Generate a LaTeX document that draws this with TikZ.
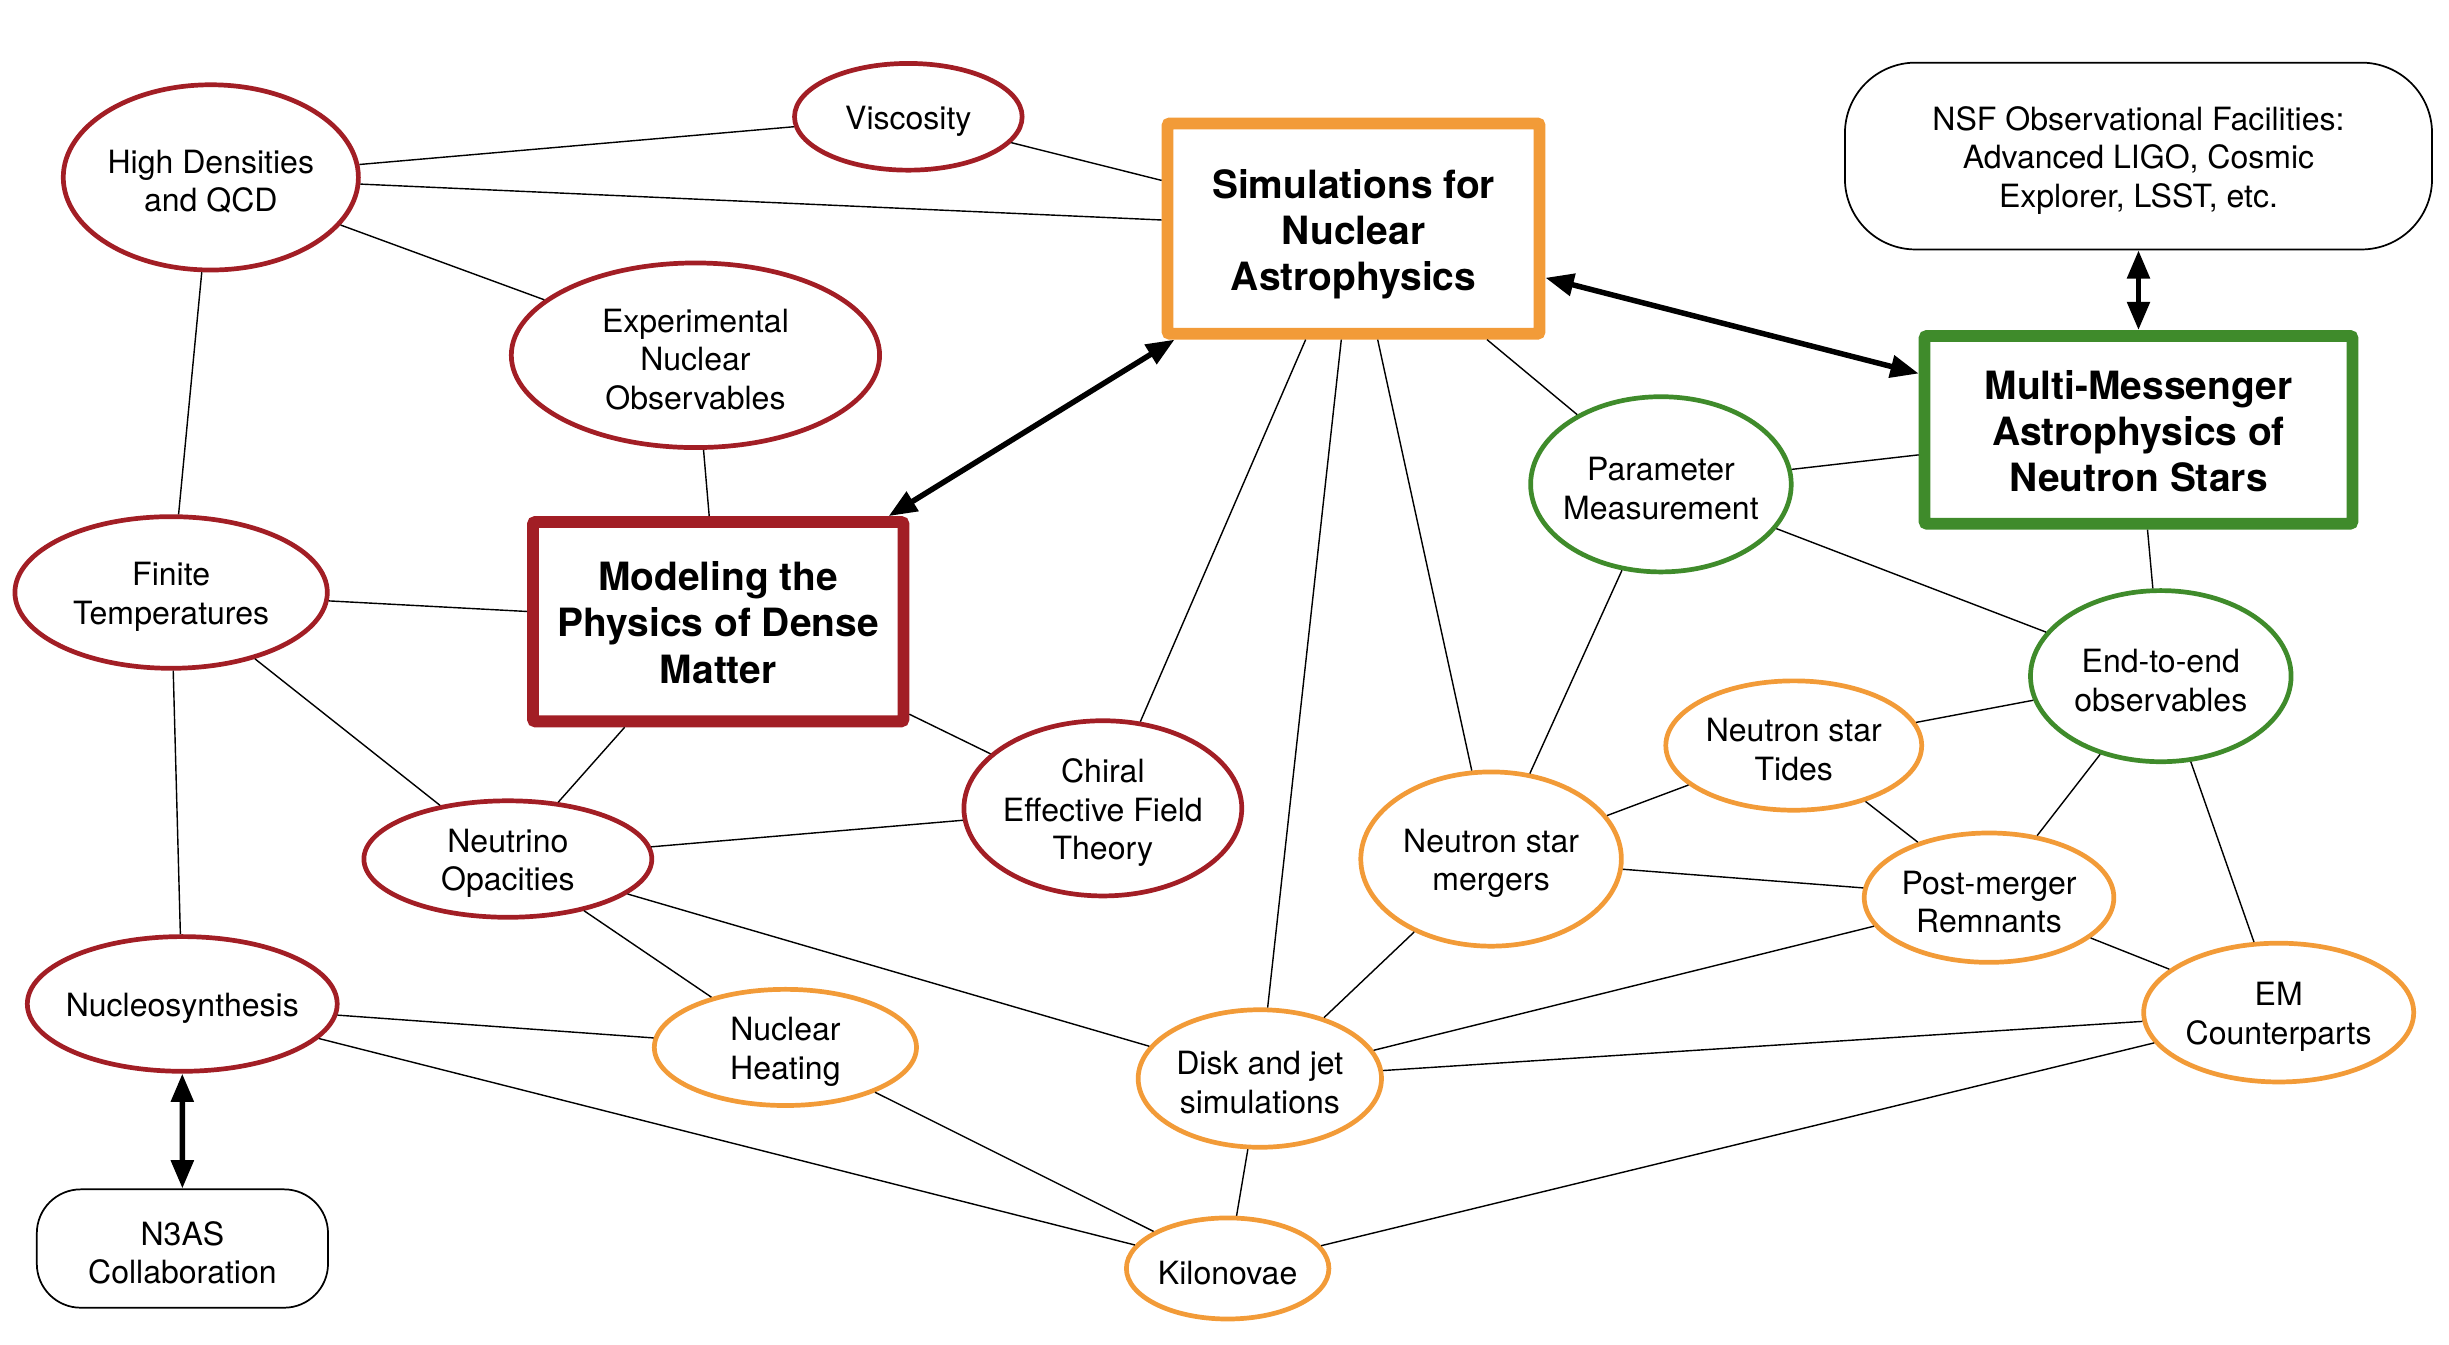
\documentclass[tikz,border=0pt]{standalone}
\usepackage{fontspec}
\setmainfont{TeX Gyre Heros}
\usetikzlibrary{shapes.geometric,arrows.meta}
\definecolor{nred}{HTML}{A21E25}
\definecolor{norange}{HTML}{F29B38}
\definecolor{ngreen}{HTML}{3F8B2B}
\tikzset{
  ell/.style={ellipse,line width=3pt,inner sep=0pt,fill=white},
  txt/.style={align=center,inner sep=0pt,yshift=-2.7pt,font=\fontsize{20.4}{24.5}\selectfont},
  boldtxt/.style={align=center,inner sep=0pt,font=\fontsize{24.8}{29.5}\selectfont\bfseries},
  bigbox/.style={rectangle,line width=7.5pt,inner sep=0pt,fill=white,rounded corners=1.5pt},
  capsule/.style={rectangle,draw=black,line width=1.1pt,inner sep=0pt,fill=white},
  link/.style={line width=0.9pt},
  dbl/.style={line width=3.5pt,{Triangle[length=18pt,width=14pt]}-{Triangle[length=18pt,width=14pt]}},
}
\newcommand\ellnode[7]{%
  \node[ell,draw=#6,minimum width=#4pt,minimum height=#5pt] (#1) at (#2,#3) {};
  \node[txt] (#1-t) at (#2,#3) {#7};}
\begin{document}
\begin{tikzpicture}[x=1pt,y=-1pt]
\useasboundingbox (0,0) rectangle (1560,856.75);

% red ellipses
\ellnode{hqcd}{134.3}{113}{188}{118}{nred}{High Densities\\and QCD}
\ellnode{visc}{578.6}{74.4}{145}{68}{nred}{Viscosity}
\ellnode{exp}{443}{226.3}{234.6}{117.6}{nred}{Experimental\\Nuclear\\Observables}
\ellnode{fin}{109}{377.4}{199}{96.6}{nred}{Finite\\Temperatures}
\ellnode{neu}{323.5}{547.2}{183.4}{74.2}{nred}{Neutrino\\Opacities}
\ellnode{chi}{702.5}{514.9}{177}{111.6}{nred}{Chiral\\Effective Field\\Theory}
\ellnode{nuc}{116.1}{639.5}{197.4}{85.8}{nred}{Nucleosynthesis}
% orange ellipses
\ellnode{heat}{500.3}{667.2}{167}{74}{norange}{Nuclear\\Heating}
\ellnode{kil}{782}{808}{129}{64.4}{norange}{Kilonovae}
\ellnode{disk}{802.5}{687}{155}{87.6}{norange}{Disk and jet\\simulations}
\ellnode{nsm}{949.8}{547.2}{166}{111}{norange}{Neutron star\\mergers}
\ellnode{tid}{1142.6}{474.9}{163}{82.4}{norange}{Neutron star\\Tides}
\ellnode{pm}{1267}{571.8}{159}{82.4}{norange}{Post-merger\\Remnants}
\ellnode{em}{1451.5}{645}{172}{88.4}{norange}{EM\\Counterparts}
% green ellipses
\ellnode{par}{1058}{308.5}{166}{111.6}{ngreen}{Parameter\\Measurement}
\ellnode{e2e}{1376.4}{430.7}{166}{109}{ngreen}{End-to-end\\observables}

% boxes
\node[bigbox,draw=nred,minimum width=236pt,minimum height=127pt] (model) at (457.5,396) {};
\node[boldtxt] (model-t) at (457.5,396.5) {Modeling the\\Physics of Dense\\Matter};
\node[bigbox,draw=norange,minimum width=237pt,minimum height=134pt] (sim) at (862.2,145.6) {};
\node[boldtxt] (sim-t) at (862.2,149.3) {Simulations for\\Nuclear\\Astrophysics};
\node[bigbox,draw=ngreen,minimum width=272.5pt,minimum height=119.6pt] (mm) at (1362.2,273.8) {};
\node[boldtxt] (mm-t) at (1362.2,274.6) {Multi-Messenger\\Astrophysics of\\Neutron Stars};

% capsules
\node[capsule,rounded corners=45pt,minimum width=374pt,minimum height=119pt] (nsf) at (1362.2,99.4) {};
\node[txt] (nsf-t) at (1362.2,99.4) {NSF Observational Facilities:\\Advanced LIGO, Cosmic\\Explorer, LSST, etc.};
\node[capsule,rounded corners=28pt,minimum width=185.5pt,minimum height=75.4pt] (n3as) at (116.2,795.3) {};
\node[txt] (n3as-t) at (116.2,795.3) {N3AS\\Collaboration};

% thin connectors
\draw[link] (hqcd) -- (visc);
\draw[link] (visc) -- (sim);
\draw[link] (hqcd) -- (sim);
\draw[link] (hqcd) -- (exp);
\draw[link] (hqcd) -- (fin);
\draw[link] (exp) -- (model);
\draw[link] (fin) -- (model);
\draw[link] (fin) -- (neu);
\draw[link] (fin) -- (nuc);
\draw[link] (model) -- (neu);
\draw[link] (model) -- (chi);
\draw[link] (neu) -- (chi);
\draw[link] (neu) -- (heat);
\draw[link] (neu) -- (disk);
\draw[link] (chi) -- (sim);
\draw[link] (sim) -- (disk);
\draw[link] (sim) -- (nsm);
\draw[link] (sim) -- (par);
\draw[link] (par) -- (mm);
\draw[link] (par) -- (e2e);
\draw[link] (par) -- (nsm);
\draw[link] (mm) -- (e2e);
\draw[link] (e2e) -- (tid);
\draw[link] (e2e) -- (pm);
\draw[link] (e2e) -- (em);
\draw[link] (tid) -- (nsm);
\draw[link] (tid) -- (pm);
\draw[link] (nsm) -- (pm);
\draw[link] (nsm) -- (disk);
\draw[link] (pm) -- (disk);
\draw[link] (pm) -- (em);
\draw[link] (em) -- (disk);
\draw[link] (em) -- (kil);
\draw[link] (disk) -- (kil);
\draw[link] (nuc) -- (heat);
\draw[link] (nuc) -- (kil);
\draw[link] (heat) -- (kil);

% thick double arrows
\draw[dbl] (model) -- (sim);
\draw[dbl] (sim) -- (mm);
\draw[dbl] (nsf) -- (mm);
\draw[dbl] (nuc) -- (n3as);
\end{tikzpicture}
\end{document}
